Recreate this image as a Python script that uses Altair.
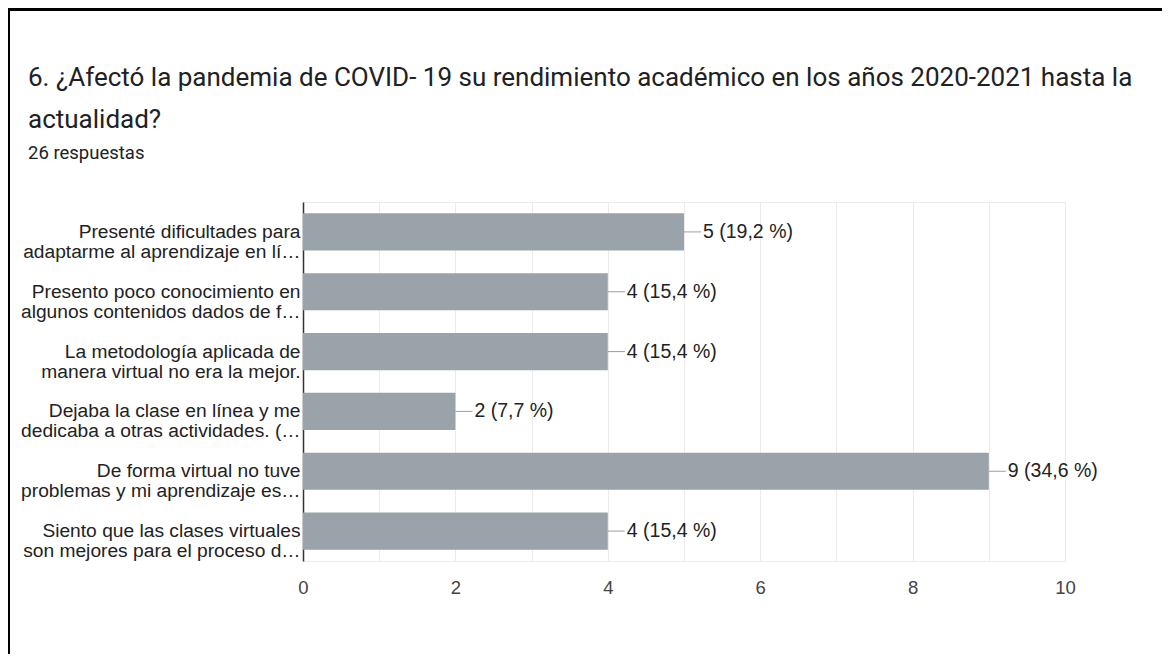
import altair as alt
import pandas as pd

line1 = [
    "Presenté dificultades para",
    "Presento poco conocimiento en",
    "La metodología aplicada de",
    "Dejaba la clase en línea y me",
    "De forma virtual no tuve",
    "Siento que las clases virtuales",
]
line2 = [
    "adaptarme al aprendizaje en lí…",
    "algunos contenidos dados de f…",
    "manera virtual no era la mejor.",
    "dedicaba a otras actividades. (…",
    "problemas y mi aprendizaje es…",
    "son mejores para el proceso d…",
]
counts = [5, 4, 4, 2, 9, 4]
percents = ["19,2", "15,4", "15,4", "7,7", "34,6", "15,4"]
x_ticks = [0, 1, 2, 3, 4, 5, 6, 7, 8, 9, 10]

title_lines = [
    "6. ¿Afectó la pandemia de COVID- 19 su rendimiento académico en los años 2020-2021 hasta la",
    "actualidad?",
]
subtitle = "26 respuestas"

cats = [a + "|" + b for a, b in zip(line1, line2)]
df = pd.DataFrame({
    "cat": cats,
    "n": counts,
    "lab": [f"{c} ({p} %)" for c, p in zip(counts, percents)],
})

W, H = 762, 359

y_enc = alt.Y(
    "cat:N",
    sort=cats,
    scale=alt.Scale(paddingInner=0.38, paddingOuter=0.19),
    axis=alt.Axis(
        title=None,
        labelExpr="split(datum.label, '|')",
        labelFont="Liberation Sans",
        labelFontSize=19.2,
        labelColor="#222222",
        labelLineHeight=20,
        labelPadding=3,
        labelLimit=0,
        ticks=False,
        domain=True,
        domainColor="#333333",
        domainWidth=1.5,
        grid=False,
    ),
)

x_enc = alt.X(
    "n:Q",
    scale=alt.Scale(domain=[0, 10], nice=False),
    axis=alt.Axis(
        title=None,
        values=x_ticks,
        format="d",
        labelExpr="datum.value % 2 == 0 ? datum.label : ''",
        labelFont="Liberation Sans",
        labelFontSize=18.5,
        labelColor="#444444",
        labelPadding=17,
        labelFlush=False,
        ticks=False,
        domain=False,
        grid=True,
        gridColor="#ebebeb",
        gridWidth=1,
    ),
)

bars = alt.Chart(df).mark_bar(color="#99a3a9").encode(x=x_enc, y=y_enc)

leaders = alt.Chart(df).mark_rule(color="#9e9e9e", strokeWidth=1, x2Offset=17).encode(
    x="n:Q", x2="n:Q", y=alt.Y("cat:N", sort=cats)
)

labels = alt.Chart(df).mark_text(
    align="left", baseline="middle", dx=19, font="Liberation Sans", fontSize=19.5, color="#222222"
).encode(x="n:Q", y=alt.Y("cat:N", sort=cats), text="lab:N")

frame_src = pd.DataFrame({"k": [0]})
top_border = alt.Chart(frame_src).mark_rule(color="#000000", strokeWidth=3).encode(
    x=alt.value(-294), x2=alt.value(870), y=alt.value(-192.5)
)
left_border = alt.Chart(frame_src).mark_rule(color="#000000", strokeWidth=3).encode(
    x=alt.value(-294.5), y=alt.value(-194), y2=alt.value(470)
)

chart = alt.layer(bars, leaders, labels, top_border, left_border).properties(
    width=W,
    height=H,
    autosize=alt.AutoSizeParams(type="none"),
    padding={"left": 295, "top": 194, "right": 97, "bottom": 93},
    background="white",
    title=alt.TitleParams(
        text=title_lines,
        subtitle=subtitle,
        anchor="start",
        frame="group",
        dx=-275,
        dy=194,
        offset=38,
        font="Roboto",
        fontSize=26,
        fontWeight="normal",
        color="#202124",
        lineHeight=42,
        subtitleFont="Roboto",
        subtitleFontSize=18.5,
        subtitleColor="#202124",
        subtitlePadding=11,
    ),
).configure_view(stroke="#ebebeb")

chart.save("out.html", embed_options={"renderer": "svg", "actions": False})
